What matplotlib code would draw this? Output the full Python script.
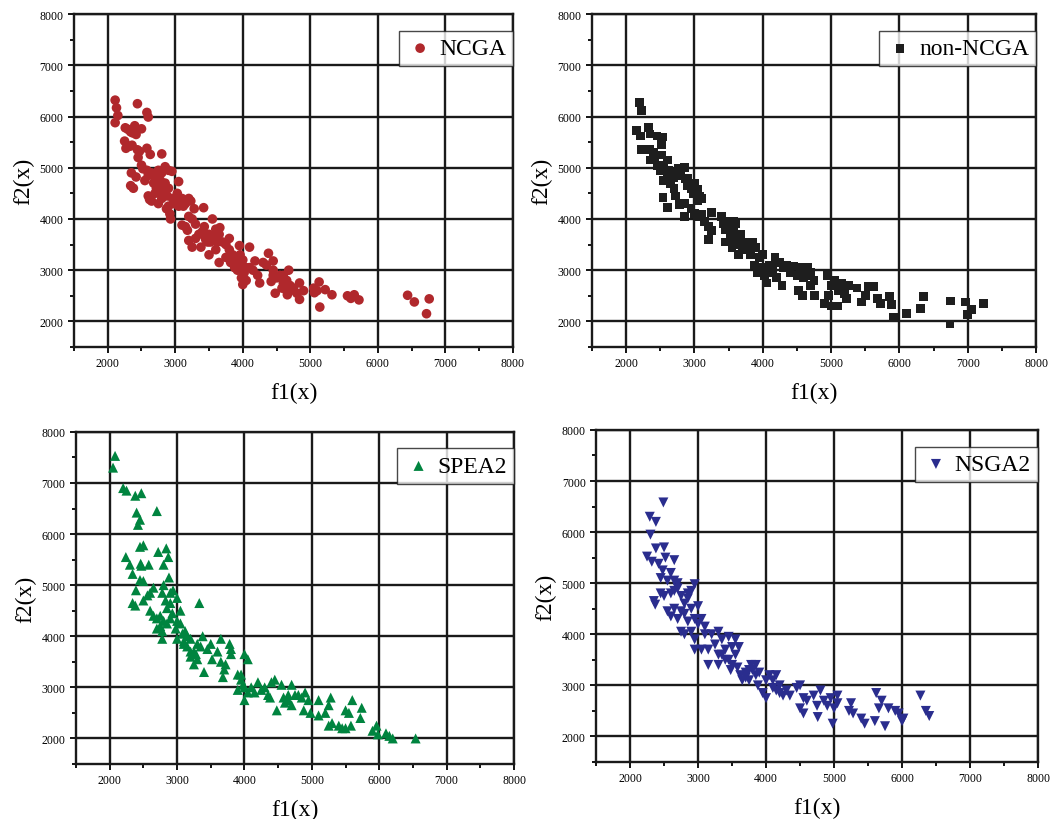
import matplotlib
matplotlib.use("Agg")
import matplotlib.pyplot as plt
from matplotlib.ticker import MultipleLocator

plt.rcParams['font.family'] = ['Liberation Serif', 'DejaVu Serif']

# --- NCGA ---
ncga_f1 = [2110, 2130, 2150, 2110, 2440, 2580, 2600, 2260, 2300, 2340, 2400, 2420, 2500, 2370,
           2250, 2270, 2330, 2360, 2440, 2470, 2580, 2630, 2450, 2800, 2350, 2420, 2340, 2380,
           2500, 2520, 2580, 2550, 2600, 2650, 2700, 2750, 2800, 2850, 2900, 2950, 2680, 2720,
           2780, 2820, 2850, 2900, 2600, 2620, 2650, 2700, 2750, 2800, 2830, 2870, 2900, 2920,
           2930, 2960, 2980, 3050, 3030, 3100, 3150, 3200, 3230, 3280, 3420, 3050, 3100, 3150,
           3180, 3200, 3250, 3300, 3200, 3250, 3300, 3380, 3400, 3430, 3450, 3500, 3550, 3520,
           3550, 3600, 3650, 3600, 3500, 3650, 3660, 3700, 3750, 3800, 3750, 3800, 3820, 3850,
           3880, 3900, 3950, 3960, 3980, 4000, 4000, 3980, 4000, 4050, 4100, 4100, 4150, 4180,
           4220, 4250, 4300, 4350, 4380, 4420, 4450, 4450, 4500, 4480, 4550, 4580, 4600, 4650,
           4650, 4680, 4700, 4660, 4750, 4800, 4840, 4840, 4900, 5050, 5060, 5130, 5100, 5140,
           5220, 5320, 5550, 5600, 5650, 5720, 6440, 6540, 6720, 6760,
           3350, 3450, 3480, 3580, 3620, 3850, 3900, 3920, 3950, 4020, 4050, 2720, 2780, 2880,
           3080, 3120, 4450, 4600, 4700, 4620]
ncga_f2 = [6320, 6170, 6020, 5880, 6250, 6080, 5990, 5780, 5750, 5700, 5820, 5650, 5760, 5680,
           5520, 5380, 5420, 5440, 5350, 5320, 5380, 5260, 5200, 5270, 4900, 4820, 4650, 4600,
           5050, 4980, 4950, 4750, 4850, 4900, 4800, 4950, 4900, 5020, 4950, 4930, 4700, 4600,
           4750, 4650, 4700, 4600, 4450, 4380, 4350, 4500, 4300, 4400, 4500, 4200, 4250, 4100,
           4000, 4400, 4300, 4730, 4500, 4400, 4300, 4400, 4350, 4200, 4220, 4250, 3880, 3850,
           3780, 4050, 4000, 3900, 3580, 3450, 3620, 3450, 3750, 3850, 3600, 3700, 4000, 3550,
           3650, 3800, 3700, 3400, 3300, 3150, 3830, 3550, 3500, 3620, 3250, 3400, 3150, 3300,
           3050, 3200, 3480, 3300, 3100, 3200, 3000, 2850, 2720, 2800, 3450, 3050, 3000, 3180,
           2900, 2750, 3150, 3100, 3330, 2780, 3180, 3000, 2850, 2550, 2900, 2650, 2750, 2600,
           2800, 3000, 2700, 2520, 2650, 2550, 2750, 2430, 2600, 2650, 2560, 2770, 2600, 2280,
           2620, 2520, 2500, 2450, 2520, 2420, 2510, 2380, 2150, 2440,
           3700, 3650, 3550, 3600, 3550, 3150, 3100, 3000, 3150, 2950, 3050, 4850, 4550, 4450,
           4350, 4250, 2900, 2900, 2600, 2700]

# --- non-NCGA ---
non_f1 = [2200, 2220, 2150, 2210, 2230, 2330, 2350, 2450, 2530, 2520, 2340, 2400, 2350, 2420,
          2450, 2520, 2500, 2550, 2600, 2620, 2550, 2600, 2650, 2680, 2700, 2720, 2540, 2610,
          2760, 2800, 2850, 2870, 2780, 2850, 2850, 2900, 2950, 3000, 3050, 3080, 3050, 3100,
          2950, 3000, 3050, 3100, 3150, 3200, 3200, 3250, 3250, 3400, 3420, 3450, 3450, 3500,
          3520, 3550, 3550, 3600, 3600, 3620, 3650, 3680, 3700, 3750, 3800, 3820, 3850, 3880,
          3900, 3920, 3950, 3980, 4000, 4030, 4050, 4100, 4150, 4180, 4200, 4250, 4280, 4300,
          4350, 4400, 4450, 4500, 4520, 4580, 4550, 4600, 4650, 4700, 4700, 4750, 4760, 4900,
          4950, 4960, 5000, 5000, 5050, 5100, 5100, 5150, 5200, 5250, 5220, 5380, 5450, 5500,
          5550, 5620, 5680, 5720, 5860, 5880, 5910, 6100, 6310, 6350, 6740, 6750, 6970, 7000,
          7050, 7230,
          3500, 3530, 3570, 3650, 3700, 3580, 4000, 4050, 4150, 4600, 4650, 4550, 5100, 5150,
          2600, 2700, 2900, 2980]
non_f2 = [6280, 6120, 5730, 5620, 5360, 5780, 5660, 5620, 5600, 5460, 5350, 5300, 5150, 5200,
          5050, 5250, 4950, 5050, 5150, 4950, 4750, 4800, 4700, 4900, 4600, 4450, 4420, 4230,
          4980, 4850, 5000, 4780, 4280, 4300, 4050, 4650, 4600, 4700, 4580, 4450, 4350, 4400,
          4200, 4100, 4050, 4080, 3950, 3850, 3600, 3780, 4130, 4050, 3900, 3550, 3800, 3950,
          3700, 3850, 3450, 3900, 3650, 3500, 3300, 3700, 3400, 3550, 3400, 3300, 3550, 3100,
          3450, 2950, 3250, 3000, 3300, 2900, 2750, 3100, 2950, 3250, 2850, 3150, 2700, 3050,
          3100, 2950, 3080, 2900, 2600, 2500, 3050, 2850, 3050, 2700, 2950, 2800, 2500, 2350,
          2900, 2500, 2700, 2300, 2800, 2300, 2600, 2750, 2550, 2700, 2450, 2650, 2380, 2500,
          2680, 2680, 2450, 2350, 2480, 2330, 2070, 2150, 2250, 2480, 1950, 2400, 2380, 2130,
          2230, 2350,
          3800, 3600, 3750, 3600, 3550, 3950, 3050, 3000, 3100, 3000, 2900, 2950, 2750, 2600,
          4900, 4800, 4800, 4500]

# --- SPEA2 ---
spea_f1 = [2080, 2050, 2200, 2250, 2380, 2470, 2700, 2400, 2450, 2420, 2500, 2450, 2720, 2840,
           2870, 2240, 2300, 2460, 2470, 2580, 2800, 2340, 2450, 2500, 2880, 2390, 2600, 2650,
           2780, 2800, 2830, 2900, 2940, 3000, 2900, 2340, 2380, 2500, 2560, 2600, 2650, 2700,
           2750, 2780, 2800, 2850, 2900, 2930, 2980, 3000, 3050, 2780, 3000, 3050, 3080, 3100,
           3120, 3150, 3200, 3250, 3300, 3350, 3330, 3380, 3200, 3250, 3300, 3400, 3450, 3500,
           3520, 3600, 3650, 3650, 3680, 3700, 3720, 3780, 3800, 3800, 3900, 3900, 3950, 3980,
           4000, 4000, 4050, 4050, 4150, 4200, 4250, 4300, 4350, 4380, 4400, 4450, 4480, 4550,
           4580, 4600, 4650, 4700, 4700, 4750, 4850, 4880, 4900, 4950, 4980, 5100, 5100, 5200,
           5250, 5280, 5250, 5300, 5400, 5450, 5500, 5500, 5550, 5580, 5600, 5720, 5740, 5900,
           5960, 5980, 6100, 6150, 6200, 6540,
           3100, 3150, 3200, 3280, 2700, 2750, 2850, 3950, 4000, 4100, 4650, 4800]
spea_f2 = [7530, 7300, 6900, 6850, 6750, 6800, 6450, 6420, 6280, 6180, 5780, 5750, 5650, 5720,
           5550, 5550, 5400, 5420, 5380, 5400, 5400, 5220, 5100, 5080, 5150, 4900, 4850, 4950,
           4850, 5000, 4700, 4850, 4900, 4750, 4650, 4650, 4600, 4700, 4800, 4500, 4400, 4350,
           4200, 4100, 4300, 4250, 4350, 4450, 4150, 4300, 4500, 3950, 3950, 4250, 4050, 3850,
           4100, 3800, 3950, 3700, 3850, 3800, 4650, 4000, 3600, 3450, 3550, 3300, 3750, 3850,
           3550, 3700, 3950, 3500, 3200, 3350, 3450, 3850, 3750, 3650, 3250, 2950, 3150, 3050,
           3650, 2750, 3550, 2900, 2900, 3100, 2950, 3000, 2850, 2800, 3100, 3150, 2550, 3050,
           2800, 2700, 2850, 3050, 2650, 2850, 2800, 2550, 2900, 2750, 2500, 2750, 2450, 2500,
           2650, 2800, 2250, 2300, 2250, 2200, 2200, 2550, 2500, 2250, 2750, 2400, 2600, 2150,
           2250, 2080, 2100, 2050, 2000, 2000,
           3900, 4000, 3700, 3650, 4150, 4400, 4550, 3250, 3000, 3000, 2750, 2850]

# --- NSGA2 ---
nsga_f1 = [2490, 2290, 2380, 2300, 2250, 2320, 2380, 2500, 2420, 2520, 2650, 2480, 2600, 2450,
           2550, 2650, 2700, 2950, 2450, 2500, 2600, 2650, 2700, 2750, 2850, 2900, 2350, 2370,
           2550, 2600, 2650, 2700, 2750, 2800, 2850, 2900, 2950, 3000, 2750, 2800, 2900, 2950,
           2950, 3050, 3050, 3100, 3150, 3150, 3200, 3250, 3300, 3300, 3300, 3350, 3400, 3450,
           3450, 3500, 3480, 3550, 3580, 3600, 3620, 3650, 3700, 3750, 3780, 3800, 3850, 3880,
           3900, 3950, 4000, 4000, 4050, 4100, 4150, 4200, 4250, 4300, 4350, 4450, 4500, 4550,
           4500, 4550, 4600, 4700, 4750, 4760, 4800, 4850, 4900, 4950, 4980, 5000, 5050, 5050,
           5220, 5250, 5280, 5400, 5450, 5600, 5620, 5660, 5700, 5750, 5800, 5900, 5950, 6000,
           6020, 6270, 6350, 6400,
           3350, 3400, 3500, 3550, 3700, 3750, 3850, 4100, 4150, 4200, 2800, 2850, 3000, 3100]
nsga_f2 = [6580, 6300, 6200, 5950, 5520, 5420, 5680, 5700, 5380, 5500, 5450, 5250, 5200, 5100,
           5050, 5050, 5000, 4980, 4800, 4750, 4800, 4850, 4900, 4750, 4800, 4850, 4650, 4580,
           4450, 4350, 4500, 4300, 4450, 4400, 4250, 4500, 4300, 4550, 4050, 4000, 4050, 3900,
           3700, 3700, 4300, 4150, 3700, 3400, 4000, 3800, 4050, 3600, 3400, 3900, 3700, 3950,
           3500, 3750, 3300, 3900, 3350, 3750, 3200, 3100, 3250, 3100, 3400, 3300, 3400, 3000,
           3250, 2850, 2750, 3100, 3200, 2950, 3200, 3000, 2800, 2900, 2800, 2950, 3000, 2750,
           2550, 2450, 2700, 2800, 2600, 2380, 2900, 2700, 2600, 2750, 2250, 2550, 2800, 2650,
           2500, 2650, 2450, 2350, 2250, 2300, 2850, 2550, 2700, 2200, 2550, 2500, 2450, 2300,
           2350, 2800, 2500, 2400,
           3600, 3500, 3400, 3600, 3150, 3300, 3200, 3100, 2900, 2850, 4600, 4700, 4200, 4000]

panels = [
    (ncga_f1, ncga_f2, "NCGA", "o", "#b0282c", 48, [0.0695, 0.5756, 0.4126, 0.406]),
    (non_f1, non_f2, "non-NCGA", "s", "#1e1e1e", 40, [0.5564, 0.5756, 0.4173, 0.406]),
    (spea_f1, spea_f2, "SPEA2", "^", "#00843f", 52, [0.0714, 0.0671, 0.4117, 0.405]),
    (nsga_f1, nsga_f2, "NSGA2", "v", "#2a2d8e", 52, [0.5602, 0.0695, 0.4154, 0.405]),
]

fig = plt.figure(figsize=(10.64, 8.2), dpi=100)

for f1, f2, name, mk, col, size, pos in panels:
    ax = fig.add_axes(pos)
    ax.scatter(f1, f2, marker=mk, s=size, color=col, edgecolors="none", label=name, zorder=3)
    ax.set_xlim(1500, 8000)
    ax.set_ylim(1500, 8000)
    ax.xaxis.set_minor_locator(MultipleLocator(500))
    ax.yaxis.set_minor_locator(MultipleLocator(500))
    ax.set_xticks(range(2000, 8001, 1000))
    ax.set_yticks(range(2000, 8001, 1000))
    ax.grid(True, which="major", color="#1a1a1a", linewidth=1.7, zorder=1)
    ax.set_axisbelow(True)
    for sp in ax.spines.values():
        sp.set_linewidth(1.7)
        sp.set_color("#1a1a1a")
    ax.tick_params(which="both", direction="out", labelsize=8.5, width=1.3, length=4)
    ax.tick_params(which="minor", length=3)
    ax.tick_params(top=False, right=False)
    ax.set_xlabel("f1(x)", fontsize=17, labelpad=9)
    ax.set_ylabel("f2(x)", fontsize=17, labelpad=4)
    leg = ax.legend(loc="upper right", bbox_to_anchor=(1.0, 0.95), borderaxespad=0,
                    fontsize=17, frameon=True, fancybox=False, handletextpad=0.2,
                    handlelength=1.2, borderpad=0.3, markerscale=1.0)
    leg.get_frame().set_edgecolor("#1a1a1a")
    leg.get_frame().set_linewidth(1.0)

plt.savefig("out.png", dpi=100)
